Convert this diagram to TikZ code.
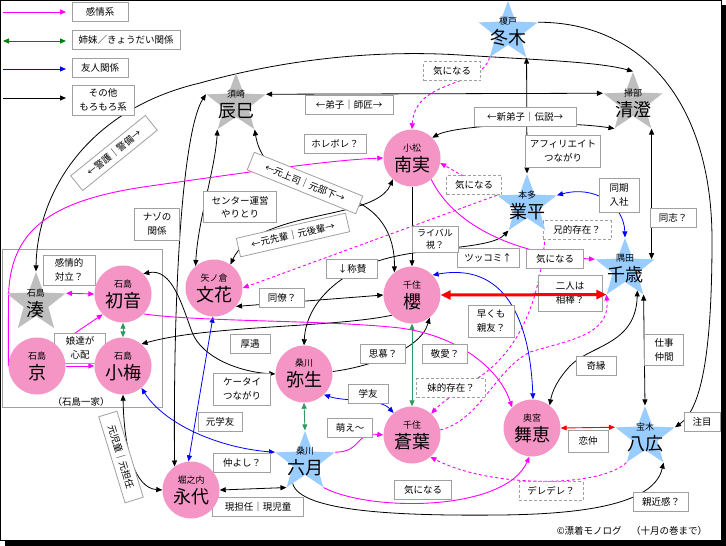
\documentclass[tikz,border=0pt]{standalone}
\usepackage{fontspec}
\setmainfont{Noto Sans CJK JP}
\usetikzlibrary{shapes.geometric,arrows.meta}
\definecolor{pinkfill}{HTML}{F495C5}
\definecolor{starblue}{HTML}{99CCFF}
\definecolor{stargray}{HTML}{BEBEBE}
\definecolor{magc}{HTML}{FF00FF}
\definecolor{grnc}{HTML}{2E9960}
\definecolor{lgrnc}{HTML}{008000}
\definecolor{bluec}{HTML}{0000FF}
\definecolor{redc}{HTML}{FF0000}
\definecolor{boxgray}{HTML}{A0A0A0}
\pgfdeclarelayer{framelayer}
\pgfdeclarelayer{edgelayer}
\pgfdeclarelayer{boxlayer}
\pgfsetlayers{framelayer,edgelayer,boxlayer,main}
\newcommand{\pn}[2]{{\fontsize{9}{9}\selectfont #1}\\#2}
\begin{document}
\begin{tikzpicture}[x=1pt,y=-1pt,
  >={Triangle[length=6pt,width=5pt]},
  person/.style={circle,fill=pinkfill,minimum size=57pt,inner sep=0pt,align=center,font=\fontsize{18}{20}\selectfont},
  gstar/.style={star,star points=5,star point ratio=2.4,fill=stargray,minimum size=62pt,inner sep=0pt},
  bstar/.style={star,star points=5,star point ratio=2.4,fill=starblue,minimum size=62pt,inner sep=0pt},
  nm/.style={align=center,inner sep=0pt,font=\fontsize{18}{20}\selectfont},
  lbl/.style={draw=boxgray,fill=white,line width=0.8pt,inner xsep=4pt,inner ysep=2pt,minimum height=19pt,minimum width=40pt,align=center,font=\fontsize{9.5}{13.5}\selectfont},
  dlbl/.style={lbl,dash pattern=on 3pt off 2pt},
  blk/.style={draw=black,line width=0.8pt},
  mg/.style={draw=magc,line width=0.9pt},
  mgd/.style={draw=magc,line width=0.9pt,dash pattern=on 3pt off 2.5pt},
  bl/.style={draw=bluec,line width=0.8pt},
  gr/.style={draw=grnc,line width=0.9pt},
]
\useasboundingbox (0,0) rectangle (726,546);
\begin{pgfonlayer}{framelayer}
\fill[black] (5,5) rectangle (726,546);
\filldraw[fill=white,draw=black,line width=1pt] (0.5,0.5) rectangle (721,540);
\draw[boxgray,line width=0.8pt] (2,249) rectangle (162,407);
\end{pgfonlayer}

% ---------- persons ----------
\node[person] (nanmi) at (412,158) {\pn{小松}{南実}};
\node[person] (hatsune) at (123,294) {\pn{石島}{初音}};
\node[person] (kyo) at (37,366) {\pn{石島}{京}};
\node[person] (koume) at (123,366) {\pn{石島}{小梅}};
\node[person] (bunka) at (214,288) {\pn{矢ノ倉}{文花}};
\node[person] (sakura) at (412,295) {\pn{千住}{櫻}};
\node[person] (yayoi) at (304,374) {\pn{桑川}{弥生}};
\node[person] (aoba) at (412,435) {\pn{千住}{蒼葉}};
\node[person] (maie) at (532,428) {\pn{奥宮}{舞恵}};
\node[person] (eitai) at (191,490) {\pn{堀之内}{永代}};

\node[bstar] (fuyuki) at (508,32) {};
\node[nm] (fuyukiT) at (fuyuki) {\pn{榎戸}{冬木}};
\node[gstar] (tatsumi) at (236,104) {};
\node[nm] (tatsumiT) at (tatsumi) {\pn{須崎}{辰巳}};
\node[gstar] (kiyosumi) at (633,103) {};
\node[nm] (kiyosumiT) at (kiyosumi) {\pn{掃部}{清澄}};
\node[bstar] (narihira) at (527,205) {};
\node[nm] (narihiraT) at (narihira) {\pn{本多}{業平}};
\node[bstar] (chitose) at (625,269) {};
\node[nm] (chitoseT) at (chitose) {\pn{隅田}{千歳}};
\node[gstar] (minato) at (36,303) {};
\node[nm] (minatoT) at (minato) {\pn{石島}{湊}};
\node[bstar] (mutsuki) at (305,462) {};
\node[nm] (mutsukiT) at (mutsuki) {\pn{桑川}{六月}};
\node[bstar] (yahiro) at (645,437) {};
\node[nm] (yahiroT) at (yahiro) {\pn{宝木}{八広}};

% ---------- legend ----------
\coordinate (la1) at (3,12);  \coordinate (lb1) at (66,12);
\coordinate (la2) at (3,41);  \coordinate (lb2) at (66,41);
\coordinate (la3) at (3,69);  \coordinate (lb3) at (66,69);
\coordinate (la4) at (3,98);  \coordinate (lb4) at (66,98);

\begin{pgfonlayer}{edgelayer}
\draw[mg,->] (la1) -- (lb1);
\draw[draw=lgrnc,line width=0.9pt,<->] (la2) -- (lb2);
\draw[bl,->] (la3) -- (lb3);
\draw[blk,->] (la4) -- (lb4);

% black
\draw[blk,<->] (minato.north) .. controls (37,195) and (85,110) .. (200,83) .. controls (290,58) and (380,50) .. (460,55) .. controls (540,60) and (600,62) .. (kiyosumi.north);
\draw[blk,->] (fuyuki.18) .. controls (640,22) and (712,100) .. (712,240) .. controls (712,360) and (700,410) .. (yahiro.18);
\draw[blk,<->] (tatsumi.18) -- (kiyosumi.162);
\draw[blk,<->] (nanmi.45) .. controls (455,125) and (560,120) .. (kiyosumi.234);
\draw[blk,<->] (fuyuki.-54) -- (narihira.north);
\draw[blk,<->] (kiyosumi.-54) -- (kiyosumi.-54 |- chitose.18);
\draw[blk,<->] (tatsumi.-54) .. controls (262,172) and (295,185) .. (340,196) .. controls (380,206) and (395,235) .. (sakura.128);
\draw[blk,<->] (tatsumi.-126) .. controls (215,170) and (198,220) .. (bunka.130);
\draw[blk,<->] (tatsumi.162) .. controls (186,125) and (173,250) .. (eitai.125);
\draw[blk,<->] (nanmi.228) .. controls (380,210) and (320,212) .. (280,226) .. controls (250,236) and (238,248) .. (bunka.55);
\draw[blk,->] (nanmi.south) -- (sakura.north);
\draw[blk,<->] (narihira.234) .. controls (490,250) and (420,246) .. (375,262) .. controls (335,277) and (306,305) .. (yayoi.90);
\draw[blk,<->] (sakura.180) -- (bunka.-40);
\draw[blk,->] (sakura.225) .. controls (330,328) and (210,325) .. (koume.50);
\draw[blk,<->] (hatsune.45) .. controls (172,268) and (182,305) .. (192,332) .. controls (202,358) and (240,372) .. (yayoi.180);
\draw[blk,->] (yayoi.5) .. controls (362,368) and (420,352) .. (sakura.-52);
\draw[blk,<->] (koume.south) .. controls (124,450) and (135,488) .. (eitai.180);
\draw[blk,<->] (mutsuki.234) -- (eitai.0);
\draw[blk,->] (mutsuki.240) .. controls (300,512) and (400,516) .. (500,515) .. controls (600,514) and (655,500) .. (yahiro.-54);
\draw[blk,<->] (chitose.-60) .. controls (636,345) and (590,345) .. (570,366) .. controls (557,380) and (552,392) .. (maie.52);
\draw[blk,<->] (chitose.-54) -- (yahiro.north);

% red thin
\draw[redc,line width=0.9pt,<->] (maie.0) -- (yahiro.162);

% green
\draw[gr,<->] (hatsune.south) -- (koume.north);
\draw[gr,<->] (sakura.south) -- (aoba.north);
\draw[gr,<->] (yayoi.south) -- (mutsuki.north);

% blue
\draw[bl,<->] (narihira.18) .. controls (595,185) and (624,205) .. (chitose.north);
\draw[bl,<->] (sakura.44) .. controls (505,262) and (530,320) .. (maie.88);
\draw[bl,<->] (yayoi.-46) .. controls (345,402) and (380,398) .. (aoba.130);
\draw[bl,<->] (koume.-50) .. controls (165,425) and (220,448) .. (mutsuki.162);
\draw[bl,<->] (bunka.-92) -- (eitai.95);

% magenta solid
\draw[mg,->] (kyo.180) -- (8.5,300) .. controls (8.5,230) and (50,200) .. (150,186) .. controls (250,172) and (330,160) .. (nanmi.180);
\draw[mg,<->] (minato.18) -- (hatsune.180);
\draw[mg,->] (kyo.46) -- (hatsune.225);
\draw[mg,->] (kyo.0) -- (koume.180);
\draw[mg,->] (hatsune.-44) .. controls (200,322) and (330,320) .. (400,328) .. controls (460,336) and (500,370) .. (maie.134);
\draw[mg,->] (nanmi.-48) .. controls (455,228) and (520,255) .. (chitose.162);
\draw[mg,->] (mutsuki.18) .. controls (362,452) and (355,432) .. (aoba.180);
\draw[mg,->] (mutsuki.-54) .. controls (370,512) and (505,512) .. (maie.-95);

% magenta dashed
\draw[mgd,->] (fuyuki.234) .. controls (482,88) and (415,78) .. (nanmi.north);
\draw[mgd,->] (narihira.162) -- (nanmi.-10);
\draw[mgd,->] (narihira.162) -- (bunka.0);
\draw[mgd,<->] (narihira.-54) .. controls (540,300) and (520,350) .. (478,378) .. controls (458,392) and (442,402) .. (aoba.48);
\draw[mgd,->] (aoba.10) .. controls (480,420) and (495,370) .. (530,352) .. controls (570,340) and (610,335) .. (chitose.234);
\draw[mgd,->] (yahiro.234) .. controls (600,488) and (490,488) .. (aoba.-50);
\end{pgfonlayer}

% ---------- labels ----------
\begin{pgfonlayer}{boxlayer}
\node[lbl,minimum width=56pt] (lg1) at (100,12) {感情系};
\node[lbl,minimum width=108pt] (lg2) at (126,40) {姉妹／きょうだい関係};
\node[lbl,minimum width=56pt] (lg3) at (100,68) {友人関係};
\node[lbl,minimum width=62pt,minimum height=30pt] (lg4) at (103,100) {その他\\もろもろ系};

\node[lbl,minimum width=88pt] (t1) at (349,105) {←弟子｜師匠→};
\node[lbl,minimum width=62pt] (t2) at (335,144) {ホレボレ？};
\node[dlbl,minimum width=57pt] (t3) at (452,71) {気になる};
\node[lbl,minimum width=102pt] (t4) at (525,117) {←新弟子｜伝説→};
\node[lbl,minimum width=74pt,minimum height=32pt] (t5) at (563,151) {アフィリエイト\\つながり};
\node[lbl,minimum height=34pt] (t6) at (619,195) {同期\\入社};
\node[lbl,minimum width=46pt] (t7) at (673,218) {同志？};
\node[dlbl,minimum width=68pt] (t8) at (577,230) {兄的存在？};
\node[lbl,minimum width=57pt] (t9) at (555,259) {気になる};
\node[lbl,minimum width=62pt] (t10) at (488,258) {ツッコミ↑};
\node[lbl,minimum width=46pt,minimum height=26pt,inner ysep=0pt,font=\fontsize{9}{12.5}\selectfont] (t11) at (435,239) {ライバル\\視？};
\node[dlbl,minimum width=55pt] (t12) at (474,185) {気になる};
\node[lbl,minimum width=64pt,minimum height=36pt] (t13) at (570,293) {二人は\\相棒？};
\node[lbl,minimum width=46pt,minimum height=32pt] (t14) at (491,321) {早くも\\親友？};
\node[lbl,minimum width=45pt] (t15) at (445,354) {敬愛？};
\node[lbl,minimum width=45pt] (t16) at (383,354) {思慕？};
\node[dlbl,minimum width=69pt] (t17) at (451,388) {妹的存在？};
\node[lbl] (t18) at (368,394) {学友};
\node[lbl,minimum width=45pt] (t19) at (350,428) {萌え〜};
\node[lbl,minimum width=57pt] (t20) at (423,490) {気になる};
\node[dlbl,minimum width=64pt] (t21) at (551,491) {デレデレ？};
\node[lbl,minimum height=22pt] (t22) at (588,441) {恋仲};
\node[lbl] (t23) at (596,366) {奇縁};
\node[lbl,minimum width=39pt,minimum height=31pt] (t24) at (664,350) {仕事\\仲間};
\node[lbl,minimum width=36pt] (t25) at (702,422) {注目};
\node[lbl,minimum width=55pt] (t26) at (661,502) {親近感？};
\node[lbl,minimum width=91pt] (t27) at (258,507) {現担任｜現児童};
\node[lbl,minimum width=57pt] (t28) at (242,463) {仲よし？};
\node[lbl,minimum width=44pt] (t29) at (220,422) {元学友};
\node[lbl,minimum width=57pt,minimum height=32pt] (t30) at (242,389) {ケータイ\\つながり};
\node[lbl] (t31) at (250,344) {厚遇};
\node[lbl,minimum width=45pt] (t32) at (282,298) {同僚？};
\node[lbl,minimum width=51pt] (t33) at (352,269) {↓称賛};
\node[lbl,minimum width=45pt,minimum height=32pt] (t34) at (157,224) {ナゾの\\関係};
\node[lbl,minimum width=73pt,minimum height=31pt] (t35) at (240,207) {センター運営\\やりとり};
\node[lbl,minimum width=52pt,minimum height=30pt] (t36) at (69,270) {感情的\\対立？};
\node[lbl,minimum width=51pt,minimum height=30pt] (t37) at (80,348) {娘達が\\心配};

\node[lbl,minimum width=112pt,rotate=13] (r1) at (293,235) {←元先輩｜元後輩→};
\node[lbl,minimum width=117pt,rotate=-22] (r2) at (305,183) {←元上司｜元部下→};
\node[lbl,minimum width=96pt,rotate=39] (r3) at (114,153) {←警護｜警備→};
\node[lbl,minimum width=90pt,rotate=-73] (r4) at (121,457) {元児童｜元担任};

\node[font=\fontsize{9.5}{11}\selectfont,inner sep=0pt] (grp) at (81,402) {（石島一家）};
\node[font=\fontsize{9.5}{11}\selectfont,inner sep=0pt] (copy) at (632,531) {©漂着モノログ　（十月の巻まで）};
\end{pgfonlayer}

% thick red over its label
\draw[redc,line width=3pt,{Triangle[length=10pt,width=9pt]}-{Triangle[length=10pt,width=9pt]}] (sakura.0) -- (chitose.234);
\end{tikzpicture}
\end{document}
